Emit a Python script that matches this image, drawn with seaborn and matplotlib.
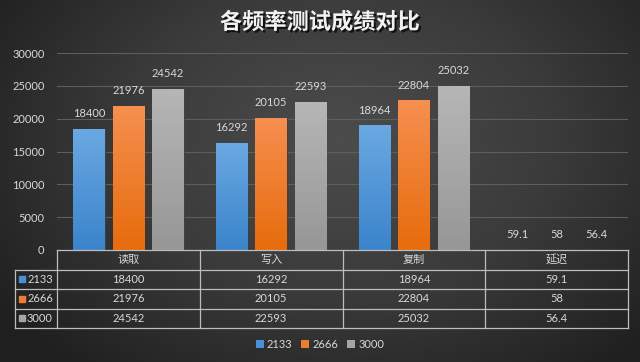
import numpy as np
import pandas as pd
import matplotlib
matplotlib.use('Agg')
import matplotlib.pyplot as plt
import seaborn as sns
from matplotlib import patheffects as pe
from matplotlib.patches import Patch
from matplotlib.colors import LinearSegmentedColormap

plt.rcParams['font.family'] = ['Lato', 'Noto Sans CJK SC', 'DejaVu Sans']
plt.rcParams['axes.unicode_minus'] = False

categories = ['读取', '写入', '复制', '延迟']
series = ['2133', '2666', '3000']
v2133 = [18400, 16292, 18964, 59.1]
v2666 = [21976, 20105, 22804, 58]
v3000 = [24542, 22593, 25032, 56.4]
values = [v2133, v2666, v3000]
title = '各频率测试成绩对比'

base = ['#4a90d6', '#ed7d31', '#a5a5a5']
grad_top = ['#6aa8e2', '#f68f50', '#b6b6b6']
grad_bot = ['#3b84cb', '#e76c0c', '#979797']
txt = '#d9d9d9'
line = '#bdbdbd'

df = pd.DataFrame({
    '项目': categories * 3,
    '频率': np.repeat(series, len(categories)),
    '成绩': v2133 + v2666 + v3000,
})

fig = plt.figure(figsize=(6.4, 3.62), dpi=100)

# radial background
bg = fig.add_axes([0, 0, 1, 1], zorder=-10)
yy, xx = np.mgrid[0:362, 0:640]
r = np.hypot((xx - 340) / 420, (yy - 140) / 300)
bgcmap = LinearSegmentedColormap.from_list('bg', ['#4c4c4c', '#3b3b3b', '#1f1f1f'])
bg.imshow(np.clip(r, 0, 1), cmap=bgcmap, aspect='auto', extent=[0, 1, 0, 1], vmin=0, vmax=1)
bg.axis('off')

ax = fig.add_axes([57 / 640, (362 - 250) / 362, 571 / 640, 197 / 362])
ax.patch.set_alpha(0)

sns.barplot(df, x='项目', y='成绩', hue='频率', palette=base, width=0.83, gap=0.2,
            saturation=1, legend=False, ax=ax, edgecolor='#3a3a3a', linewidth=0.6)

for i, cont in enumerate(ax.containers):
    cmap = LinearSegmentedColormap.from_list('g%d' % i, [grad_bot[i], grad_top[i]])
    for bar in cont:
        x, w, h = bar.get_x(), bar.get_width(), bar.get_height()
        im = ax.imshow(np.linspace(1, 0, 64)[:, None], cmap=cmap, aspect='auto',
                       extent=[x, x + w, 0, h], zorder=bar.get_zorder())
        im.set_clip_path(bar)
    ax.bar_label(cont, labels=[f'{v:g}' for v in values[i]], padding=7,
                 color=txt, fontsize=8)

ax.set_xlim(-0.5, 3.5)
ax.set_ylim(0, 30000)
ax.set_yticks(range(0, 30001, 5000))
ax.set_xticks([])
ax.set_xlabel('')
ax.set_ylabel('')
ax.yaxis.grid(True, color='#5e5e5e', lw=0.8)
ax.set_axisbelow(True)
ax.tick_params(axis='y', length=0, labelcolor=txt, labelsize=8, pad=9)
for s in ax.spines.values():
    s.set_visible(False)

# data table
tr = ax.get_xaxis_transform()
rh = 19.5 / 197
xl = -0.5 - 42 / 143
xr = 3.5
kw = dict(color=line, lw=0.9, transform=tr, clip_on=False)
ax.plot([-0.5, xr], [0, 0], **kw)
for k in range(1, 5):
    ax.plot([xl, xr], [-k * rh, -k * rh], **kw)
for xv in np.arange(-0.5, 3.6, 1):
    ax.plot([xv, xv], [0, -4 * rh], **kw)
ax.plot([xl, xl], [-rh, -4 * rh], **kw)

for j, c in enumerate(categories):
    ax.text(j, -0.5 * rh, c, ha='center', va='center', color=txt, fontsize=8,
            transform=tr, clip_on=False)
for i, s in enumerate(series):
    yc = -(i + 1.5) * rh
    ax.plot([xl + 7 / 143], [yc], marker='s', ms=5, color=base[i], transform=tr,
            clip_on=False, ls='none')
    ax.text(xl + 12 / 143, yc, s, ha='left', va='center', color=txt, fontsize=8,
            transform=tr, clip_on=False)
    for j, v in enumerate(values[i]):
        ax.text(j, yc, f'{v:g}', ha='center', va='center', color=txt, fontsize=8,
                transform=tr, clip_on=False)

handles = [Patch(facecolor=base[i], label=s) for i, s in enumerate(series)]
fig.legend(handles=handles, loc='center', bbox_to_anchor=(0.5, 1 - 344 / 362), ncol=3,
           frameon=False, handlelength=0.7, handleheight=0.7, handletextpad=0.3,
           columnspacing=0.8, labelcolor=txt, fontsize=8)

fig.text(0.5, 1 - 22 / 362, title, ha='center', va='center', fontsize=16,
         fontweight='bold', color='#f2f2f2',
         path_effects=[pe.withSimplePatchShadow(offset=(1.5, -1.5), shadow_rgbFace='black', alpha=0.7)])

fig.savefig('out.png', dpi=100)
